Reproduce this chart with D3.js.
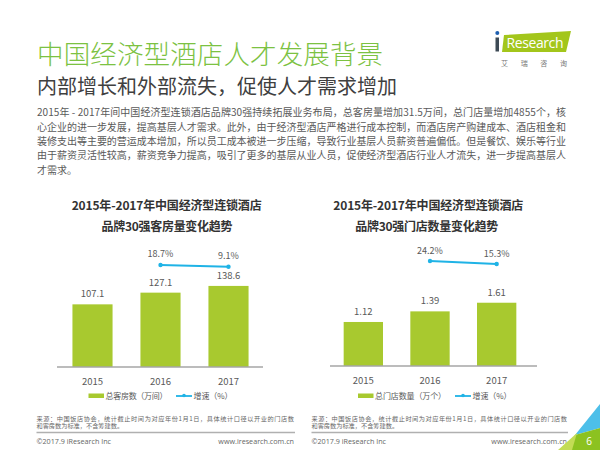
<!DOCTYPE html>
<html><head><meta charset="utf-8">
<script src="https://cdn.jsdelivr.net/npm/d3@7"></script>
<style>
html,body{margin:0;padding:0;background:#fff;}
svg{display:block;font-family:"Noto Sans CJK SC","Noto Sans",sans-serif;}
</style></head>
<body><svg id="c" width="600" height="450"></svg>
<script>
// ---- data ----
const years = ["2015","2016","2017"];
const rooms = [107.1,127.1,138.6];
const roomGrowth = [null,18.7,9.1];
const stores = [1.12,1.39,1.61];
const storeGrowth = [null,24.2,15.3];

const titleText = "中国经济型酒店人才发展背景";
const subtitleText = "内部增长和外部流失，促使人才需求增加";
const paraLines = [
 "2015年 - 2017年间中国经济型连锁酒店品牌30强持续拓展业务布局，总客房量增加31.5万间，总门店量增加4855个，核",
 "心企业的进一步发展，提高基层人才需求。此外，由于经济型酒店严格进行成本控制，而酒店房产购建成本、酒店租金和",
 "装修支出等主要的营运成本增加，所以员工成本被进一步压缩，导致行业基层人员薪资普遍偏低。但是餐饮、娱乐等行业",
 "由于薪资灵活性较高，薪资竞争力提高，吸引了更多的基层从业人员，促使经济型酒店行业人才流失，进一步提高基层人",
 "才需求。"
];
const chartTitles = [
 ["2015年-2017年中国经济型连锁酒店","品牌30强客房量变化趋势"],
 ["2015年-2017年中国经济型连锁酒店","品牌30强门店数量变化趋势"]
];
const legendBars = ["总客房数（万间）","总门店数量（万个）"];
const legendLine = "增速（%）";
const sourceLines = ["来源：中国饭店协会，统计截止时间为对应年份1月1日，具体统计口径以开业的门店数","和客房数为标准，不含筹建数。"];
const copyright = "©2017.9 iResearch Inc";
const website = "www.iresearch.com.cn";

const svg = d3.select("#c");
const GREEN = "#a8c92f", BLUE = "#1fb3e6", TXT = "#595959";

// ---- header ----
svg.append("text").attr("x",37).attr("y",52).attr("dominant-baseline","central")
  .attr("font-size",26.5).attr("font-weight",300).attr("fill","#7cc242").attr("textLength",346).text(titleText);
svg.append("text").attr("x",37).attr("y",85).attr("dominant-baseline","central")
  .attr("font-size",20).attr("fill","#404040").attr("textLength",360).text(subtitleText);

// logo
const logo = svg.append("g");
logo.append("polygon").attr("points","504,35 571,31 566,52 502,52").attr("fill","#a3c61b");
logo.append("rect").attr("x",495.5).attr("y",37.5).attr("width",3.5).attr("height",14).attr("fill","#3d4a55");
logo.append("circle").attr("cx",497.3).attr("cy",33).attr("r",2).attr("fill","#1e5fb0");
logo.append("text").attr("x",535).attr("y",42.5).attr("dominant-baseline","central").attr("text-anchor","middle")
  .attr("font-family","'Open Sans',sans-serif").attr("font-size",14).attr("fill","#fff").attr("textLength",57).text("Research");
logo.append("text").attr("x",501).attr("y",63).attr("dominant-baseline","central")
  .attr("font-size",7).attr("fill","#777").attr("textLength",66).attr("lengthAdjust","spacing").text("艾瑞咨询");

// paragraph
paraLines.forEach((l,i)=>{
  const t = svg.append("text").attr("x",37).attr("y",111.7+i*14.4).attr("dominant-baseline","central")
    .attr("font-size",10).attr("fill",TXT).text(l);
  if(i<paraLines.length-1) t.attr("textLength",529).attr("lengthAdjust","spacing");
});

// ---- charts ----
function drawChart(cfg){
  const g = svg.append("g");
  const x = d3.scaleBand().domain(years).range(cfg.xr).paddingInner(0.41).paddingOuter(0.205);
  const y = d3.scaleLinear().domain([0,cfg.ymax]).range([cfg.base, cfg.base-cfg.ymax*cfg.k]);
  const y2 = d3.scaleLinear().domain([0,100]).range(cfg.y2r);
  // titles
  cfg.titles.forEach((t,i)=>{
    g.append("text").attr("x",cfg.tx[i]).attr("y",204+i*21).attr("text-anchor","middle").attr("dominant-baseline","central")
      .attr("font-size",12).attr("font-weight","bold").attr("fill","#333").attr("textLength",cfg.tw[i]).text(t);
  });
  // bars
  g.selectAll("rect.bar").data(cfg.vals).join("rect").attr("class","bar")
    .attr("x",(d,i)=>x(years[i])).attr("width",x.bandwidth())
    .attr("y",d=>y(d)).attr("height",d=>y(0)-y(d)).attr("fill",GREEN);
  g.selectAll("text.val").data(cfg.vals).join("text").attr("class","val")
    .attr("x",(d,i)=>x(years[i])+x.bandwidth()/2).attr("y",d=>y(d)-11)
    .attr("text-anchor","middle").attr("dominant-baseline","central")
    .attr("font-size",9.5).attr("fill",TXT).text(d=>d);
  // axis
  const ax = g.append("g").attr("transform",`translate(0,${cfg.base})`)
    .call(d3.axisBottom(x).tickSize(0).tickPadding(0));
  ax.select(".domain").attr("d",`M${cfg.axr[0]},0H${cfg.axr[1]}`).attr("stroke","#a6a6a6").attr("stroke-width",1.3);
  ax.selectAll(".tick text").attr("y",14).attr("dy",null).attr("dominant-baseline","central")
    .attr("font-size",9.5).attr("fill",TXT).attr("font-family","'Noto Sans CJK SC',sans-serif");
  // growth line
  const pts = cfg.growth.map((v,i)=>({v,i})).filter(d=>d.v!=null);
  const line = d3.line().x(d=>x(years[d.i])+x.bandwidth()/2).y(d=>y2(d.v));
  g.append("path").attr("d",line(pts)).attr("fill","none").attr("stroke",BLUE).attr("stroke-width",2);
  g.selectAll("circle.pt").data(pts).join("circle").attr("class","pt")
    .attr("cx",d=>x(years[d.i])+x.bandwidth()/2).attr("cy",d=>y2(d.v)).attr("r",2.2).attr("fill",BLUE);
  g.selectAll("text.pct").data(pts).join("text").attr("class","pct")
    .attr("x",d=>x(years[d.i])+x.bandwidth()/2).attr("y",d=>y2(d.v)-11)
    .attr("text-anchor","middle").attr("dominant-baseline","central")
    .attr("font-size",9).attr("fill",TXT).text(d=>d.v.toFixed(1)+"%");
  // legend
  const L = cfg.leg;
  g.append("rect").attr("x",L[0]).attr("y",393.5).attr("width",15.5).attr("height",4.5).attr("fill",GREEN);
  g.append("text").attr("x",L[0]+17).attr("y",395.8).attr("dominant-baseline","central")
    .attr("font-size",8).attr("fill",TXT).attr("textLength",L[1]).text(cfg.legText);
  g.append("line").attr("x1",L[2]).attr("x2",L[2]+16).attr("y1",396).attr("y2",396).attr("stroke",BLUE).attr("stroke-width",1.8);
  g.append("circle").attr("cx",L[2]+8).attr("cy",395.5).attr("r",1.8).attr("fill",BLUE);
  g.append("text").attr("x",L[2]+17.5).attr("y",395.8).attr("dominant-baseline","central")
    .attr("font-size",8).attr("fill",TXT).attr("textLength",39).text(legendLine);
  // source + footer
  sourceLines.forEach((s,i)=>{
    const t = g.append("text").attr("x",cfg.fx[0]).attr("y",418+i*7.6).attr("dominant-baseline","central")
      .attr("font-size",6.2).attr("fill","#666").text(s);
    if(i===0) t.attr("textLength",cfg.fx[1]-cfg.fx[0]).attr("lengthAdjust","spacing");
  });
  g.append("line").attr("x1",cfg.fx[0]).attr("x2",cfg.fx[1]+1).attr("y1",432.5).attr("y2",432.5)
    .attr("stroke","#b0b0b0").attr("stroke-width",1.6);
  g.append("text").attr("x",cfg.fx[0]).attr("y",441).attr("dominant-baseline","central")
    .attr("font-size",7.2).attr("fill","#666").attr("font-family","'Open Sans',sans-serif").text(copyright);
  g.append("text").attr("x",cfg.fx[1]).attr("y",441).attr("dominant-baseline","central").attr("text-anchor","end")
    .attr("font-size",7.2).attr("fill","#666").attr("font-family","'Open Sans',sans-serif").text(website);
}

drawChart({vals:rooms, growth:roomGrowth, titles:chartTitles[0], tx:[166.7,167], tw:[190,131],
  xr:[58.5,262.5], axr:[57,263], ymax:150, k:0.585, base:367, y2r:[268.3,250.6],
  leg:[88.5,62,176], legText:legendBars[0], fx:[36.5,294]});
drawChart({vals:stores, growth:storeGrowth, titles:chartTitles[1], tx:[428.3,426.7], tw:[190,143],
  xr:[330,530], axr:[330,537], ymax:2, k:39.3, base:366, y2r:[269.2,235.5],
  leg:[358,71,455], legText:legendBars[1], fx:[311.5,567]});

// corner decoration
svg.append("polygon").attr("points","600,404 575,435 600,428").attr("fill","#4dbfe9");
svg.append("polygon").attr("points","575,435 600,428 600,450 566,450").attr("fill","#8cc220");
svg.append("polygon").attr("points","558,450 577,433 572,450").attr("fill","#c3dc55");
svg.append("text").attr("x",589).attr("y",441).attr("text-anchor","middle").attr("dominant-baseline","central")
  .attr("font-size",10).attr("fill","#fff").attr("font-family","'Open Sans',sans-serif").text("6");
</script></body></html>
